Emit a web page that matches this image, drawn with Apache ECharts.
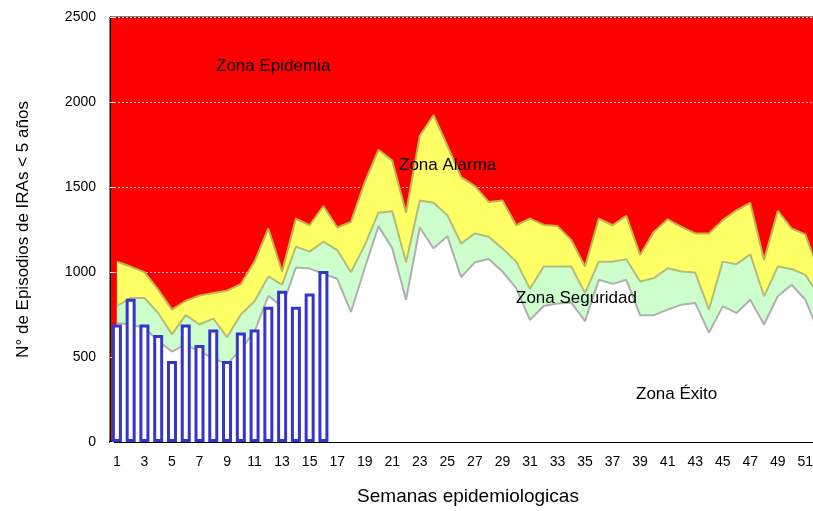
<!DOCTYPE html>
<html>
<head>
<meta charset="utf-8">
<script src="https://cdn.jsdelivr.net/npm/echarts@6/dist/echarts.min.js"></script>
<style>
html,body{margin:0;padding:0;background:#fff;overflow:hidden;width:813px;height:511px;}
#c{width:826px;height:511px;}
</style>
</head>
<body>
<div id="c"></div>
<script>
const weeks = Array.from({length: 52}, (_, i) => String(i + 1));
const alarmUpper = [1061,1032,999,896,779,831,861,876,890,929,1061,1256,1003,1314,1275,1388,1262,1295,1528,1719,1655,1349,1801,1922,1743,1558,1505,1412,1421,1275,1314,1277,1270,1188,1032,1314,1275,1330,1100,1236,1310,1266,1227,1227,1305,1363,1406,1071,1359,1256,1221,1000];
const safetyUpper = [800,847,847,759,633,746,691,726,617,750,828,974,925,1149,1120,1178,1129,999,1158,1349,1357,1057,1421,1408,1334,1168,1227,1207,1139,1061,901,1032,1032,1032,876,1061,1061,1075,944,964,1022,1003,997,779,1061,1046,1104,857,1032,1018,983,860];
const successUpper = [700,691,672,594,532,574,532,493,458,545,650,860,795,1026,1020,990,960,765,1022,1270,1139,837,1262,1139,1211,970,1057,1077,1003,905,718,800,815,820,711,954,930,954,746,746,779,808,818,643,798,759,837,691,857,925,837,640];
const cases = [691,843,691,629,477,691,571,662,477,644,662,796,890,796,874,1006];
const zoneLabels = ['Zona Epidemia','Zona Alarma','Zona Seguridad','Zona Éxito'];
const yTitle = 'N° de Episodios de IRAs < 5 años';
const xTitle = 'Semanas epidemiologicas';

const FONT = 'Liberation Sans, Arial, sans-serif';
const chart = echarts.init(document.getElementById('c'), null, {renderer: 'canvas'});

function areaSeries(name, data, fill, stroke) {
  return {
    name, type: 'line', data, symbol: 'none', silent: true,
    lineStyle: {color: stroke, width: 2},
    areaStyle: {color: fill, opacity: 1, origin: 'start'},
    animation: false
  };
}

const option = {
  animation: false,
  grid: {left: 110, top: 17, right: 0, bottom: 66, show: true, backgroundColor: '#ff0000', borderColor: '#000', borderWidth: 1},
  xAxis: {
    type: 'category', data: weeks, boundaryGap: true,
    name: xTitle, nameLocation: 'middle', nameGap: 45,
    nameTextStyle: {fontFamily: FONT, fontSize: 19, color: '#000'},
    axisLine: {lineStyle: {color: '#000', width: 2}},
    axisTick: {show: false},
    axisLabel: {interval: 1, fontFamily: FONT, fontSize: 14, color: '#000', margin: 13},
    splitLine: {show: false}
  },
  yAxis: {
    type: 'value', min: 0, max: 2500, interval: 500,
    name: yTitle, nameLocation: 'middle', nameGap: 78,
    nameTextStyle: {fontFamily: FONT, fontSize: 17, color: '#000'},
    axisLine: {show: true, lineStyle: {color: '#000', width: 1}},
    axisTick: {show: true, inside: true, length: 4, lineStyle: {color: '#fff'}},
    axisLabel: {fontFamily: FONT, fontSize: 14, color: '#000', margin: 14, formatter: v => String(v)},
    splitLine: {show: true, lineStyle: {color: '#ffd0d0', type: [2, 2], width: 1}}
  },
  series: [
    areaSeries('Alarma', alarmUpper, '#ffff66', '#bdb54a'),
    areaSeries('Seguridad', safetyUpper, '#ccffcc', '#b4bd78'),
    areaSeries('Exito', successUpper, '#ffffff', '#b0b0b0'),
    {
      name: 'Casos', type: 'bar', data: cases, barWidth: 10, silent: true,
      itemStyle: {color: '#ffffff', borderColor: '#3535c8', borderWidth: 3},
      z: 5
    }
  ],
  graphic: [
    {type: 'text', z: 100, left: 216, top: 58, style: {text: zoneLabels[0], font: '17px ' + FONT, fill: '#000'}},
    {type: 'text', z: 100, left: 399, top: 157, style: {text: zoneLabels[1], font: '17px ' + FONT, fill: '#000'}},
    {type: 'text', z: 100, left: 516, top: 290, style: {text: zoneLabels[2], font: '17px ' + FONT, fill: '#000'}},
    {type: 'text', z: 100, left: 636, top: 386, style: {text: zoneLabels[3], font: '17px ' + FONT, fill: '#000'}}
  ]
};
chart.setOption(option);
</script>
</body>
</html>
